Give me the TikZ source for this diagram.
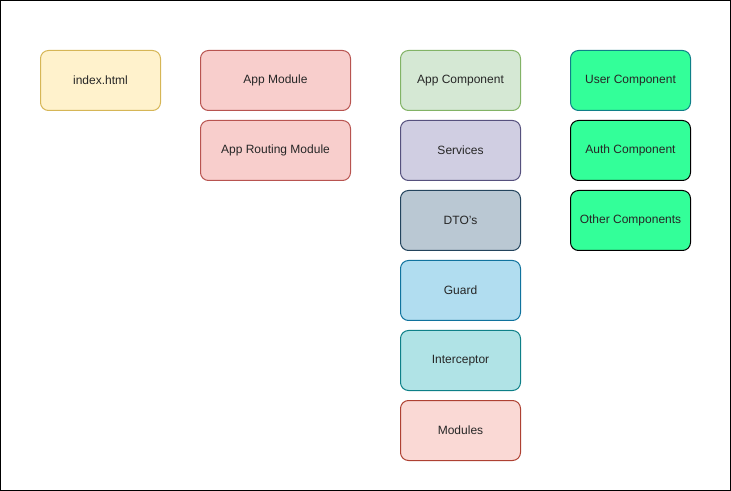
\documentclass[tikz,border=0pt]{standalone}
\usepackage{fontspec}
\setmainfont{Liberation Sans}
\definecolor{yelF}{HTML}{FFF2CC}\definecolor{yelS}{HTML}{D6B656}
\definecolor{redF}{HTML}{F8CECC}\definecolor{redS}{HTML}{B85450}
\definecolor{grnF}{HTML}{D5E8D4}\definecolor{grnS}{HTML}{82B366}
\definecolor{purF}{HTML}{D0CEE2}\definecolor{purS}{HTML}{56517E}
\definecolor{bluF}{HTML}{BAC8D3}\definecolor{bluS}{HTML}{23445D}
\definecolor{skyF}{HTML}{B1DDF0}\definecolor{skyS}{HTML}{10739E}
\definecolor{tealF}{HTML}{B0E3E6}\definecolor{tealS}{HTML}{0E8088}
\definecolor{pinkF}{HTML}{FAD9D5}\definecolor{pinkS}{HTML}{AE4132}
\definecolor{mintF}{HTML}{33FF99}
\begin{document}
\begin{tikzpicture}[x=0.75pt,y=-0.75pt,
  box/.style={draw, rounded corners=6pt, line width=0.75pt, minimum width=90pt, minimum height=45pt, inner sep=0pt, font=\fontsize{9}{11}\selectfont, text=black!85, anchor=north west},
  wide/.style={minimum width=112.5pt}]
\useasboundingbox (0,0) rectangle (731,491);
\draw[line width=0.75pt] (0.5,0.5) rectangle (730,490);
\node[box, fill=yelF, draw=yelS] (index) at (40,50) {index.html};
\node[box, wide, fill=redF, draw=redS] (appmod) at (200,50) {App Module};
\node[box, wide, fill=redF, draw=redS] (approut) at (200,120) {App Routing Module};
\node[box, fill=grnF, draw=grnS] (appcomp) at (400,50) {App Component};
\node[box, fill=purF, draw=purS] (services) at (400,120) {Services};
\node[box, fill=bluF, draw=bluS] (dto) at (400,190) {DTO\symbol{39}s};
\node[box, fill=skyF, draw=skyS] (guard) at (400,260) {Guard};
\node[box, fill=tealF, draw=tealS] (inter) at (400,330) {Interceptor};
\node[box, fill=pinkF, draw=pinkS] (modules) at (400,400) {Modules};
\node[box, fill=mintF, draw=tealS] (user) at (570,50) {User Component};
\node[box, fill=mintF, draw=black] (auth) at (570,120) {Auth Component};
\node[box, fill=mintF, draw=black] (other) at (570,190) {Other Components};
\end{tikzpicture}
\end{document}
